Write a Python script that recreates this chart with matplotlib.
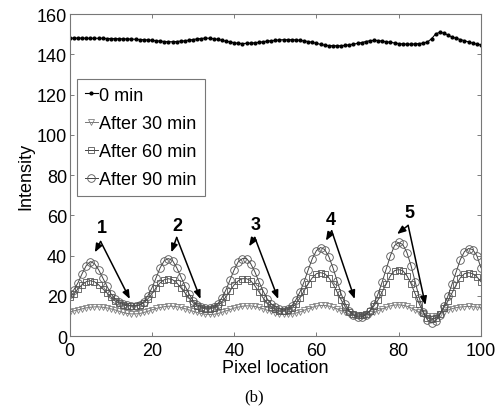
import numpy as np
import matplotlib
matplotlib.use('Agg')
import matplotlib.pyplot as plt

plt.rcParams['font.family'] = ['Liberation Sans', 'DejaVu Sans']

# Pixel positions 0..100
pixel = np.arange(0, 101)

# 0 min (top trace)
min0 = [148.1, 148.1, 148.1, 148.1, 148.0, 148.0, 148.0, 148.0, 148.0, 147.9,
        147.9, 147.8, 147.8, 147.7, 147.7, 147.6, 147.5, 147.4, 147.3, 147.2,
        147.0, 146.8, 146.6, 146.4, 146.3, 146.3, 146.4, 146.6, 146.8, 147.1,
        147.4, 147.7, 147.9, 148.1, 148.0, 147.8, 147.5, 147.0, 146.6, 146.2,
        145.8, 145.5, 145.4, 145.5, 145.6, 145.8, 146.0, 146.3, 146.6, 146.8,
        147.0, 147.2, 147.3, 147.3, 147.3, 147.2, 147.0, 146.7, 146.4, 146.0,
        145.5, 145.0, 144.6, 144.4, 144.3, 144.3, 144.3, 144.5, 144.8, 145.1,
        145.5, 145.9, 146.4, 146.8, 147.0, 146.9, 146.6, 146.3, 146.0, 145.7,
        145.4, 145.2, 145.1, 145.1, 145.2, 145.4, 145.6, 146.2, 147.8, 150.2,
        151.0, 150.6, 149.6, 148.6, 148.0, 147.4, 146.8, 146.2, 145.6, 145.1,
        144.8]

# After 30 min (triangles)
min30 = [12.0, 12.5, 13.0, 13.5, 14.0, 14.3, 14.5, 14.5, 14.3, 14.0,
         13.5, 13.0, 12.3, 11.7, 11.2, 11.0, 11.0, 11.2, 11.7, 12.3,
         13.0, 13.7, 14.2, 14.6, 14.8, 14.8, 14.6, 14.2, 13.6, 13.0,
         12.3, 11.7, 11.2, 10.8, 10.7, 10.8, 11.2, 11.8, 12.5, 13.2,
         13.9, 14.4, 14.8, 15.0, 15.0, 14.7, 14.2, 13.6, 12.9, 12.2,
         11.6, 11.1, 10.8, 10.7, 10.9, 11.4, 12.0, 12.8, 13.6, 14.3,
         14.9, 15.2, 15.2, 14.9, 14.3, 13.5, 12.6, 11.7, 10.9, 10.3,
         10.0, 10.0, 10.3, 10.9, 11.7, 12.6, 13.5, 14.3, 15.0, 15.4,
         15.5, 15.3, 14.8, 14.0, 13.0, 11.8, 10.7, 10.0, 9.8, 10.2,
         11.0, 12.0, 12.9, 13.6, 14.1, 14.4, 14.6, 14.7, 14.6, 14.4,
         14.2]

# After 60 min (squares)
min60 = [19.5, 21.0, 23.5, 25.5, 27.0, 27.5, 27.0, 25.5, 23.5, 21.5,
         19.5, 17.5, 16.5, 15.5, 15.0, 15.0, 15.0, 15.5, 16.5, 18.5,
         21.0, 24.0, 26.5, 28.0, 28.5, 28.0, 26.5, 24.0, 21.5, 19.0,
         16.5, 15.0, 14.0, 13.5, 13.5, 14.0, 15.0, 17.0, 19.5, 22.5,
         25.5, 27.5, 28.5, 28.5, 27.5, 25.0, 22.0, 19.0, 16.5, 14.5,
         13.5, 12.5, 12.5, 13.0, 14.0, 16.0, 19.0, 22.5, 26.0, 29.0,
         31.0, 31.5, 31.0, 29.0, 26.0, 22.0, 18.0, 14.5, 12.0, 11.0,
         10.5, 10.5, 11.0, 12.5, 15.0, 18.0, 22.0, 26.0, 30.0, 32.5,
         33.0, 32.5, 30.0, 26.0, 21.0, 16.0, 11.5, 9.0, 8.5, 9.0,
         11.0, 14.0, 17.5, 21.5, 25.5, 29.0, 31.0, 31.5, 31.0, 29.5,
         27.0]

# After 90 min (circles)
min90 = [21.0, 23.0, 26.5, 31.0, 35.0, 37.0, 36.0, 33.0, 29.0, 25.0,
         21.0, 18.5, 17.0, 16.0, 15.5, 15.0, 15.0, 15.5, 17.0, 20.0,
         24.0, 29.0, 34.0, 37.5, 38.5, 37.5, 34.0, 29.5, 25.0, 21.0,
         17.5, 15.5, 14.5, 14.0, 14.0, 14.5, 16.0, 19.0, 23.0, 28.0,
         33.0, 37.0, 38.5, 38.5, 36.0, 32.0, 27.0, 22.5, 18.5, 16.0,
         14.5, 13.5, 13.0, 13.5, 15.0, 18.0, 22.0, 27.0, 33.0, 38.5,
         42.5, 44.0, 43.0, 39.5, 34.0, 27.5, 21.0, 16.0, 12.5, 10.5,
         9.5, 9.5, 10.5, 12.5, 16.0, 21.0, 27.0, 33.5, 40.0, 45.0,
         46.5, 45.5, 41.5, 35.0, 27.0, 19.0, 12.0, 8.0, 6.5, 7.5,
         10.5, 15.0, 20.0, 26.0, 32.0, 38.0, 42.0, 43.5, 43.0, 40.0,
         34.0]

series_labels = ['0 min', 'After 30 min', 'After 60 min', 'After 90 min']

# annotation numbers: label, text pos, arrow origin, peak head, trough head
notes = [
    ('1', (7.9, 54.0), (7.5, 47.0), (6.1, 41.6), (14.6, 18.4)),
    ('2', (26.1, 54.8), (26.0, 49.0), (24.7, 41.6), (31.8, 18.4)),
    ('3', (45.2, 55.2), (45.0, 49.0), (43.6, 44.6), (50.7, 18.4)),
    ('4', (63.4, 57.8), (63.7, 52.3), (62.3, 47.4), (69.3, 18.4)),
    ('5', (82.6, 61.5), (82.3, 55.0), (79.6, 50.7), (86.5, 15.4)),
]

fig = plt.figure(figsize=(5.02, 4.10), dpi=100)
ax = fig.add_axes([0.139, 0.178, 0.819, 0.785])

ax.plot(pixel, min0, color='black', lw=0.8, marker='.', ms=4,
        label=series_labels[0])
ax.plot(pixel, min30, color='#777777', lw=0.7, marker='v', ms=4,
        mfc='none', mec='#808080', mew=0.6, label=series_labels[1])
ax.plot(pixel, min60, color='#444444', lw=0.7, marker='s', ms=4,
        mfc='none', mec='#555555', mew=0.6, label=series_labels[2])
ax.plot(pixel, min90, color='#444444', lw=0.7, marker='o', ms=5.5,
        mfc='none', mec='#555555', mew=0.6, label=series_labels[3])

for txt, tpos, origin, head1, head2 in notes:
    ax.text(tpos[0], tpos[1], txt, fontsize=13, fontweight='bold',
            ha='center', va='center')
    for head in (head1, head2):
        ax.annotate('', xy=head, xytext=origin,
                    arrowprops=dict(arrowstyle='-|>,head_length=0.5,head_width=0.2',
                                    color='black', lw=1.1, shrinkA=0, shrinkB=0))

ax.set_xlim(0, 100)
ax.set_ylim(0, 160)
ax.set_xticks([0, 20, 40, 60, 80, 100])
ax.set_yticks([0, 20, 40, 60, 80, 100, 120, 140, 160])
ax.tick_params(direction='in', length=3, width=0.6, color='#666666',
               labelsize=13, top=True, right=True)
ax.tick_params(axis='y', pad=2)
ax.tick_params(axis='x', pad=4)
for s in ax.spines.values():
    s.set_color('#777777')
    s.set_linewidth(0.8)

ax.set_xlabel('Pixel location', fontsize=13, labelpad=0)
ax.set_ylabel('Intensity', fontsize=13, labelpad=2)

leg = ax.legend(loc='upper left', bbox_to_anchor=(0.017, 0.80), fontsize=13,
                handlelength=0.7, handletextpad=0.1, borderpad=0.45,
                labelspacing=0.62, fancybox=False, framealpha=1,
                borderaxespad=0)
leg.get_frame().set_edgecolor('#777777')
leg.get_frame().set_linewidth(0.8)

fig.text(0.506, 0.03, '(b)', fontsize=12, family='Liberation Serif',
         ha='center', va='center')

fig.savefig('out.png', dpi=100)
